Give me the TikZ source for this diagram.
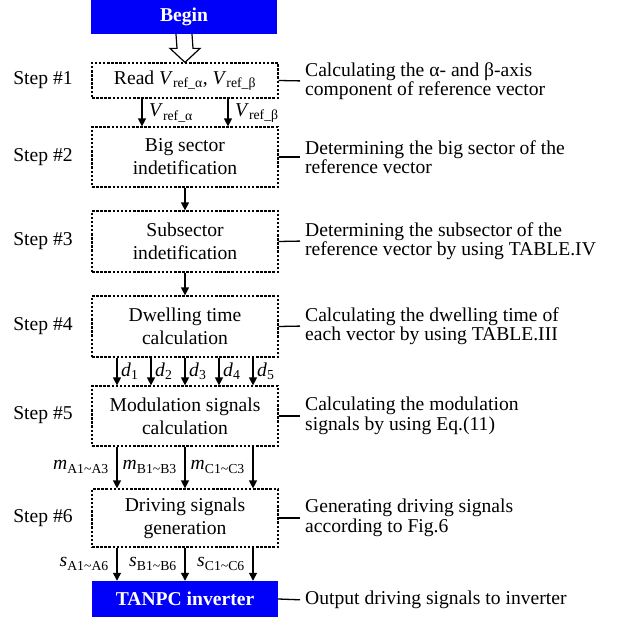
\documentclass[tikz,border=0pt]{standalone}
\usepackage{fontspec}
\setmainfont{Liberation Serif}
\usetikzlibrary{arrows.meta,calc}
\definecolor{bblue}{RGB}{0,0,250}
\begin{document}
\begin{tikzpicture}[x=1pt,y=-1pt,
 font=\fontsize{19.6}{19.5}\selectfont,
 stepbox/.style={draw, line width=1.2pt, dash pattern=on 2.5pt off 1.6pt, minimum width=186pt, align=center, inner sep=0pt, font=\fontsize{19.6}{23}\selectfont},
 bluebox/.style={fill=bblue, text=white, font=\fontsize{19.6}{20}\selectfont\bfseries, minimum width=186pt, inner sep=0pt},
 arr/.style={line width=1.3pt, -{Triangle[length=8pt,width=8pt]}},
 desc/.style={anchor=west, align=left, inner sep=0pt},
 steplab/.style={inner sep=0pt},
 sig/.style={inner sep=0pt},
 link/.style={line width=1.3pt, shorten >=5pt}]
\useasboundingbox (0,0) rectangle (621,617);
% boxes
\node[bluebox, minimum height=34pt] (begin) at (184,17) {Begin};
\node[stepbox, minimum height=35pt] (s1) at (185,80.5) {Read \textit{V}\textsubscript{ref\_α}, \textit{V}\textsubscript{ref\_β}};
\node[stepbox, minimum height=60pt] (s2) at (185,157) {Big sector\\indetification};
\node[stepbox, minimum height=61pt] (s3) at (185,241.5) {Subsector\\indetification};
\node[stepbox, minimum height=61pt] (s4) at (185,326.5) {Dwelling time\\calculation};
\node[stepbox, minimum height=60pt] (s5) at (185,416) {Modulation signals\\calculation};
\node[stepbox, minimum height=58pt] (s6) at (185,518) {Driving signals\\generation};
\node[bluebox, minimum height=36pt] (inv) at (185,599) {TANPC inverter};
% step labels
\node[steplab] (l1) at (43,80) {Step \#1};
\node[steplab] (l2) at (43,157) {Step \#2};
\node[steplab] (l3) at (43,241) {Step \#3};
\node[steplab] (l4) at (43,326) {Step \#4};
\node[steplab] (l5) at (43,415) {Step \#5};
\node[steplab] (l6) at (43,518) {Step \#6};
% descriptions
\node[desc] (d1) at (305,81) {Calculating the α- and β-axis\\component of reference vector};
\node[desc] (d2) at (305,157) {Determining the big sector of the\\reference vector};
\node[desc] (d3) at (305,241) {Determining the subsector of the\\reference vector by using TABLE.IV};
\node[desc] (d4) at (305,326) {Calculating the dwelling time of\\each vector by using TABLE.III};
\node[desc] (d5) at (305,416) {Calculating the modulation\\signals by using Eq.(11)};
\node[desc] (d6) at (305,518) {Generating driving signals\\according to Fig.6};
\node[desc] (d7) at (305,600) {Output driving signals to inverter};
\foreach \i/\j in {s1/d1,s2/d2,s3/d3,s4/d4,s5/d5,s6/d6,inv/d7}
  \draw[link] (\i.east) -- (\j.west);
% hollow arrow
\draw[line width=1.2pt, fill=white] ($(begin.south)+(-8,0)$) -- ($(s1.north)+(-8,-14)$) -- ($(s1.north)+(-15,-14)$) -- (s1.north) -- ($(s1.north)+(15,-14)$) -- ($(s1.north)+(8,-14)$) -- ($(begin.south)+(8,0)$);
% arrows step1 -> step2
\draw[arr] ([xshift=-43pt]s1.south) -- ([xshift=-43pt]s2.north);
\draw[arr] ([xshift=43pt]s1.south) -- ([xshift=43pt]s2.north);
\node[sig, anchor=west] (va) at (149,113) {\textit{V}\textsubscript{ref\_α}};
\node[sig, anchor=west] (vb) at (235,113) {\textit{V}\textsubscript{ref\_β}};
\draw[arr] (s2.south) -- (s3.north);
\draw[arr] (s3.south) -- (s4.north);
% d arrows
\foreach \k/\dx in {1/-68,2/-34,3/0,4/34,5/68}{
  \draw[arr] ([xshift=\dx pt]s4.south) -- ([xshift=\dx pt]s5.north);
  \node[sig, anchor=west] (dd\k) at ($(s4.south)+(\dx+4,14)$) {\textit{d}\textsubscript{\k}};
}
% m arrows
\foreach \dx in {-68,0,68}
  \draw[arr] ([xshift=\dx pt]s5.south) -- ([xshift=\dx pt]s6.north);
\node[sig, anchor=east] (ma) at (109,467) {\textit{m}\textsubscript{A1\textasciitilde A3}};
\node[sig, anchor=east] (mb) at (177,467) {\textit{m}\textsubscript{B1\textasciitilde B3}};
\node[sig, anchor=east] (mc) at (245,467) {\textit{m}\textsubscript{C1\textasciitilde C3}};
% s arrows
\foreach \dx in {-68,0,68}
  \draw[arr] ([xshift=\dx pt]s6.south) -- ([xshift=\dx pt]inv.north);
\node[sig, anchor=east] (sa) at (109,564) {\textit{s}\textsubscript{A1\textasciitilde A6}};
\node[sig, anchor=east] (sb) at (177,564) {\textit{s}\textsubscript{B1\textasciitilde B6}};
\node[sig, anchor=east] (sc) at (245,564) {\textit{s}\textsubscript{C1\textasciitilde C6}};
\end{tikzpicture}
\end{document}
